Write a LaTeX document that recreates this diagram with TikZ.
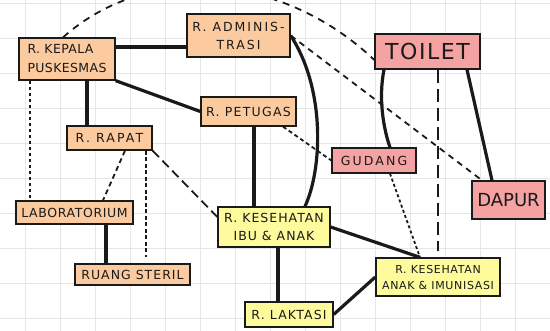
\documentclass[tikz,border=0pt]{standalone}
\usepackage{fontspec}
\setmainfont{DejaVu Sans}
\newcommand{\roomfont}[3]{\fontsize{#1pt}{#2pt}\selectfont\addfontfeature{LetterSpace=#3}}
\definecolor{peach}{HTML}{FBCA9E}
\definecolor{pinkroom}{HTML}{F4A2A2}
\definecolor{yellowroom}{HTML}{FDFB9C}
\definecolor{gridgray}{HTML}{E6E6E6}
\definecolor{ink}{HTML}{1A1A1A}
\begin{document}
\begin{tikzpicture}[x=1pt,y=-1pt,
  room/.style={draw=ink,line width=1.3pt,inner sep=1pt,align=center,text=ink},
  office/.style={room,fill=peach},
  service/.style={room,fill=pinkroom},
  clinic/.style={room,fill=yellowroom},
  wall/.style={draw=ink,line width=3.2pt},
  link/.style={draw=ink,line width=1.8pt},
]
\useasboundingbox (0,0) rectangle (550,331);
\fill[white] (0,0) rectangle (550,331);
\foreach \gx in {25,60,...,515} \draw[gridgray,line width=0.8pt] (\gx,0) -- (\gx,331);
\foreach \gy in {3,38,...,318} \draw[gridgray,line width=0.8pt] (0,\gy) -- (550,\gy);

\node[office,minimum width=96pt,minimum height=42pt,align=left,font=\roomfont{12.5}{19}{3}] (kepala) at (67,59) {R. KEPALA\\PUSKESMAS};
\node[office,minimum width=103pt,minimum height=43pt,font=\roomfont{12.5}{18}{16}] (admin) at (238.5,35.5) {R. ADMINIS-\\TRASI};
\node[service,minimum width=105pt,minimum height=35pt,font=\roomfont{22}{24}{7}] (toilet) at (427.5,51.5) {TOILET};
\node[office,minimum width=95pt,minimum height=29pt,font=\roomfont{12.5}{14}{10}] (petugas) at (248.5,111.5) {R. PETUGAS};
\node[office,minimum width=85pt,minimum height=24pt,font=\roomfont{12.5}{14}{17}] (rapat) at (109.5,138) {R. RAPAT};
\node[service,minimum width=84pt,minimum height=25pt,font=\roomfont{12.5}{14}{17}] (gudang) at (374,160.5) {GUDANG};
\node[service,minimum width=73pt,minimum height=38pt,font=\roomfont{18}{20}{0}] (dapur) at (508.5,200) {DAPUR};
\node[office,minimum width=117pt,minimum height=23pt,font=\roomfont{12.5}{14}{5}] (lab) at (74.5,212.5) {LABORATORIUM};
\node[clinic,minimum width=112pt,minimum height=40pt,font=\roomfont{12.5}{18}{8}] (ibu) at (274,227) {R. KESEHATAN\\IBU \& ANAK};
\node[office,minimum width=115pt,minimum height=21pt,font=\roomfont{12.5}{14}{8}] (steril) at (132.5,274.5) {RUANG STERIL};
\node[clinic,minimum width=124pt,minimum height=38pt,font=\roomfont{11}{16}{6}] (anak) at (438,277) {R. KESEHATAN\\ANAK \& IMUNISASI};
\node[clinic,minimum width=88pt,minimum height=25pt,font=\roomfont{12.5}{14}{9}] (laktasi) at (289,314.5) {R. LAKTASI};

% solid connections
\draw[wall] ([yshift=12pt]kepala.east) -- ([yshift=-11.5pt]admin.west);
\draw[wall] (kepala.south east) -- (petugas.west);
\draw[wall] ([xshift=20pt]kepala.south) -- ([xshift=-22.5pt]rapat.north);
\draw[wall] ([xshift=5.5pt]petugas.south) -- ([xshift=-20pt]ibu.north);
\draw[wall] (admin.east) .. controls (326,90) and (322,170) .. ([xshift=31pt]ibu.north);
\draw[wall] ([xshift=-43.5pt]toilet.south) .. controls (378,100) and (384,130) .. ([xshift=16pt]gudang.north);
\draw[wall] ([xshift=39.5pt]toilet.south) -- ([xshift=-16.5pt]dapur.north);
\draw[wall] ([xshift=31.5pt]lab.south) -- ([xshift=-26.5pt]steril.north);
\draw[wall] (ibu.east) -- ([xshift=-18pt]anak.north);
\draw[wall] (laktasi.east) -- (anak.west);
\draw[wall] ([xshift=4pt]ibu.south) -- ([xshift=-11pt]laktasi.north);

% dashed connections
\draw[link,dash pattern=on 7pt off 6pt] ([xshift=-4pt]kepala.north) .. controls (150,-40) and (285,-25) .. ([yshift=-8.5pt]toilet.west);
\draw[link,dash pattern=on 6pt off 5pt] (admin.east) -- ([xshift=-26.5pt]dapur.north);
\draw[link,dash pattern=on 3.5pt off 2.5pt] ([xshift=-37pt]kepala.south) -- ([xshift=-44.5pt]lab.north);
\draw[link,dash pattern=on 5pt off 3.5pt] ([xshift=15.5pt]rapat.south) -- ([xshift=28.5pt]lab.north);
\draw[link,dash pattern=on 4pt off 2.5pt] ([xshift=36.5pt]rapat.south) -- ([xshift=13.5pt,yshift=6pt]steril.north);
\draw[link,dash pattern=on 9pt off 5pt] (rapat.south east) -- ([yshift=10pt]ibu.west);
\draw[link,dash pattern=on 4pt off 3pt] ([xshift=34.5pt]petugas.south) -- (gudang.west);
\draw[link,dash pattern=on 3pt off 2.5pt] ([xshift=16pt]gudang.south) -- ([xshift=-18pt]anak.north);
\draw[link,dash pattern=on 13pt off 6pt] ([xshift=10.5pt]toilet.south) -- ([yshift=6pt]anak.north);
\end{tikzpicture}
\end{document}
